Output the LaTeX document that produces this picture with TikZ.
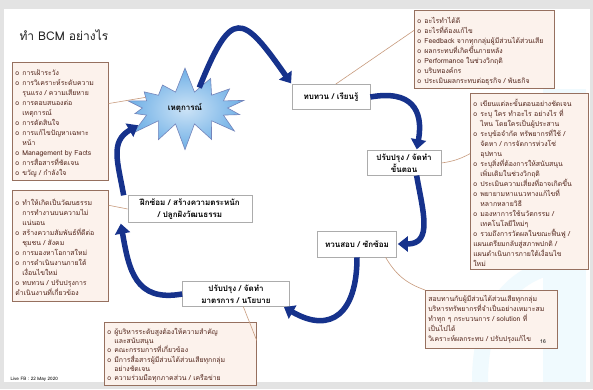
\documentclass[tikz,border=0pt]{standalone}
\usepackage{fontspec}
\setmainfont[Script=Thai]{Loma}
\usetikzlibrary{arrows.meta, shapes.symbols}
\definecolor{navy}{RGB}{22,50,140}
\definecolor{notefill}{RGB}{252,242,236}
\definecolor{notedraw}{RGB}{150,112,95}
\definecolor{notetext}{RGB}{80,35,25}
\definecolor{linkcol}{RGB}{200,155,125}
\definecolor{burst}{RGB}{110,175,230}
\newcommand{\bitem}[1]{\par\hangindent=7pt\hangafter=1\noindent\makebox[7pt][l]{o}#1}
\tikzset{ box/.style = { rectangle
                       , draw = gray!65
                       , fill = white
                       , line width = 0.7pt
                       , align = center
                       , inner sep = 3pt
                       , font = \fontsize{8}{12}\selectfont\bfseries
                       },
          note/.style = { rectangle
                        , draw = notedraw
                        , fill = notefill
                        , line width = 0.7pt
                        , anchor = north west
                        , align = left
                        , inner sep = 3pt
                        , text = notetext
                        , font = \fontsize{6.9}{10}\selectfont
                        },
          burst/.style = { starburst
                         , starburst points = 14
                         , starburst point height = 26pt
                         , random starburst = 7
                         , inner xsep = 13pt
                         , inner ysep = 7pt
                         , draw = navy!60
                         , line width = 0.6pt
                         , inner color = burst!35
                         , outer color = burst
                         , font = \fontsize{8}{10}\selectfont\bfseries
                         },
          bcmarrow/.style = { draw = navy
                            , line width = 5.5pt
                            , -{Triangle[length=10pt, width=15pt]}
                            , shorten > = 1pt
                            },
          link/.style = { draw = linkcol
                        , line width = 0.6pt
                        }
        }
\begin{document}
\begin{tikzpicture}[x=1pt, y=1pt]
  \useasboundingbox (0,0) rectangle (593,389);
  % slide
  \fill[gray!22] (0,0) rectangle (593,389);
  \fill[white] (4,7) rectangle (590,380);
  \fill[cyan!6] (543,7) rectangle (586,300);
  \draw[cyan!6, line width=16pt] (480,7) to[out=90, in=200] (543,120);
  \node[anchor=west, text=gray!25!black, font=\fontsize{12}{14}\selectfont]
    (heading) at (16,354) {ทำ BCM อย่างไร};

  % cycle
  \node[burst] (event) at (185,281) {เหตุการณ์};
  \node[box, minimum width=78pt, minimum height=25pt] (review) at (331,292) {ทบทวน / เรียนรู้};
  \node[box, minimum width=74pt] (procedure) at (404,226) {ปรับปรุง / จัดทำ\\ขั้นตอน};
  \node[box, minimum width=79pt, minimum height=26pt] (verify) at (357,145) {ทวนสอบ / ซักซ้อม};
  \node[box, minimum width=107pt] (policy) at (236,95) {ปรับปรุง / จัดทำ\\มาตรการ / นโยบาย};
  \node[box, minimum width=124pt] (drill) at (190,180) {ฝึกซ้อม / สร้างความตระหนัก\\/ ปลูกฝังวัฒนธรรม};

  \draw[bcmarrow] (event.55) to[out=68, in=125, looseness=2.4] (review.north west);
  \draw[bcmarrow] (review.east) to[out=10, in=80, looseness=1.5] (procedure.45);
  \draw[bcmarrow] (procedure.-45) to[out=-80, in=0, looseness=1.3] (verify.east);
  \draw[bcmarrow] (verify.south) to[out=-90, in=-30, looseness=1.6] (policy.-15);
  \draw[bcmarrow] (policy.west) to[out=190, in=-80, looseness=1.3] ([xshift=-7pt]drill.south west);
  \draw[bcmarrow] ([xshift=-4pt]drill.north west) to[out=100, in=210, looseness=1.2] (event.200);

  % notes
  \node[note, text width=90pt, minimum height=113pt] (respond) at (12,327) {%
    \bitem{การเฝ้าระวัง}
    \bitem{การวิเคราะห์ระดับความ\newline รุนแรง / ความเสียหาย}
    \bitem{การตอบสนองต่อ\newline เหตุการณ์}
    \bitem{การตัดสินใจ}
    \bitem{การแก้ไขปัญหาเฉพาะ\newline หน้า}
    \bitem{Management by Facts}
    \bitem{การสื่อสารที่ชัดเจน}
    \bitem{ขวัญ / กำลังใจ}};
  \node[note, text width=90pt, minimum height=111pt] (culture) at (12,199) {%
    \bitem{ทำให้เกิดเป็นวัฒนธรรม\newline การทำงานบนความไม่\newline แน่นอน}
    \bitem{สร้างความสัมพันธ์ที่ดีต่อ\newline ชุมชน / สังคม}
    \bitem{การมองหาโอกาสใหม่}
    \bitem{การดำเนินงานภายใต้\newline เงื่อนไขใหม่}
    \bitem{ทบทวน / ปรับปรุงการ\newline ดำเนินงานที่เกี่ยวข้อง}};
  \node[note, text width=134pt, minimum height=73pt] (lessons) at (414,379) {%
    \bitem{อะไรทำได้ดี}
    \bitem{อะไรที่ต้องแก้ไข}
    \bitem{Feedback จากทุกกลุ่มผู้มีส่วนได้ส่วนเสีย}
    \bitem{ผลกระทบที่เกิดขึ้นภายหลัง}
    \bitem{Performance ในช่วงวิกฤติ}
    \bitem{บริบทองค์กร}
    \bitem{ประเมินผลกระทบต่อธุรกิจ / พันธกิจ}};
  \node[note, text width=112pt, minimum height=176pt] (plan) at (470,296) {%
    \bitem{เขียนแต่ละขั้นตอนอย่างชัดเจน}
    \bitem{ระบุ ใคร ทำอะไร อย่างไร ที่\newline ไหน โดยใครเป็นผู้ประสาน}
    \bitem{ระบุข้อจำกัด ทรัพยากรที่ใช้ /\newline จัดหา / การจัดการห่วงโซ่\newline อุปทาน}
    \bitem{ระบุสิ่งที่ต้องการให้สนับสนุน\newline เพิ่มเติมในช่วงวิกฤติ}
    \bitem{ประเมินความเสี่ยงที่อาจเกิดขึ้น}
    \bitem{พยายามหาแนวทางแก้ไขที่\newline หลากหลายวิธี}
    \bitem{มองหาการใช้นวัตกรรม /\newline เทคโนโลยีใหม่ๆ}
    \bitem{รวมถึงการวัดผลในขณะฟื้นฟู /\newline แผนเตรียมกลับสู่สภาพปกติ /\newline แผนดำเนินการภายใต้เงื่อนไข\newline ใหม่}};
  \node[note, text width=126pt, minimum height=58pt] (check) at (425,99) {%
    สอบทานกับผู้มีส่วนได้ส่วนเสียทุกกลุ่ม\\
    บริหารทรัพยากรที่จำเป็นอย่างเหมาะสม\\
    ทำทุก ๆ กระบวนการ / solution ที่\\
    เป็นไปได้\\
    วิเคราะห์ผลกระทบ / ปรับปรุงแก้ไข};
  \node[note, text width=146pt, minimum height=57pt, font=\fontsize{6.9}{9.2}\selectfont]
    (support) at (104,67) {%
    \bitem{ผู้บริหารระดับสูงต้องให้ความสำคัญ\newline และสนับสนุน}
    \bitem{คณะกรรมการที่เกี่ยวข้อง}
    \bitem{มีการสื่อสารผู้มีส่วนได้ส่วนเสียทุกกลุ่ม\newline อย่างชัดเจน}
    \bitem{ความร่วมมือทุกภาคส่วน / เครือข่าย}};

  % callout lines
  \draw[link] (respond.20) -- (event.165);
  \draw[link] (culture.40) -- (drill.west);
  \draw[link] (lessons.165) -- (review.70);
  \draw[link] (plan.155) to[bend left=10] (procedure.east);
  \draw[link] (verify.-25) to[bend right=20] (check.north west);
  \draw[link] (support.10) -- (policy.-60);

  \node[anchor=west, font=\fontsize{4.6}{5}\selectfont] (live) at (7,10) {Live FB : 22 May 2020};
  \node[font=\fontsize{5}{6}\selectfont] (page) at (543,47) {16};
\end{tikzpicture}
\end{document}
